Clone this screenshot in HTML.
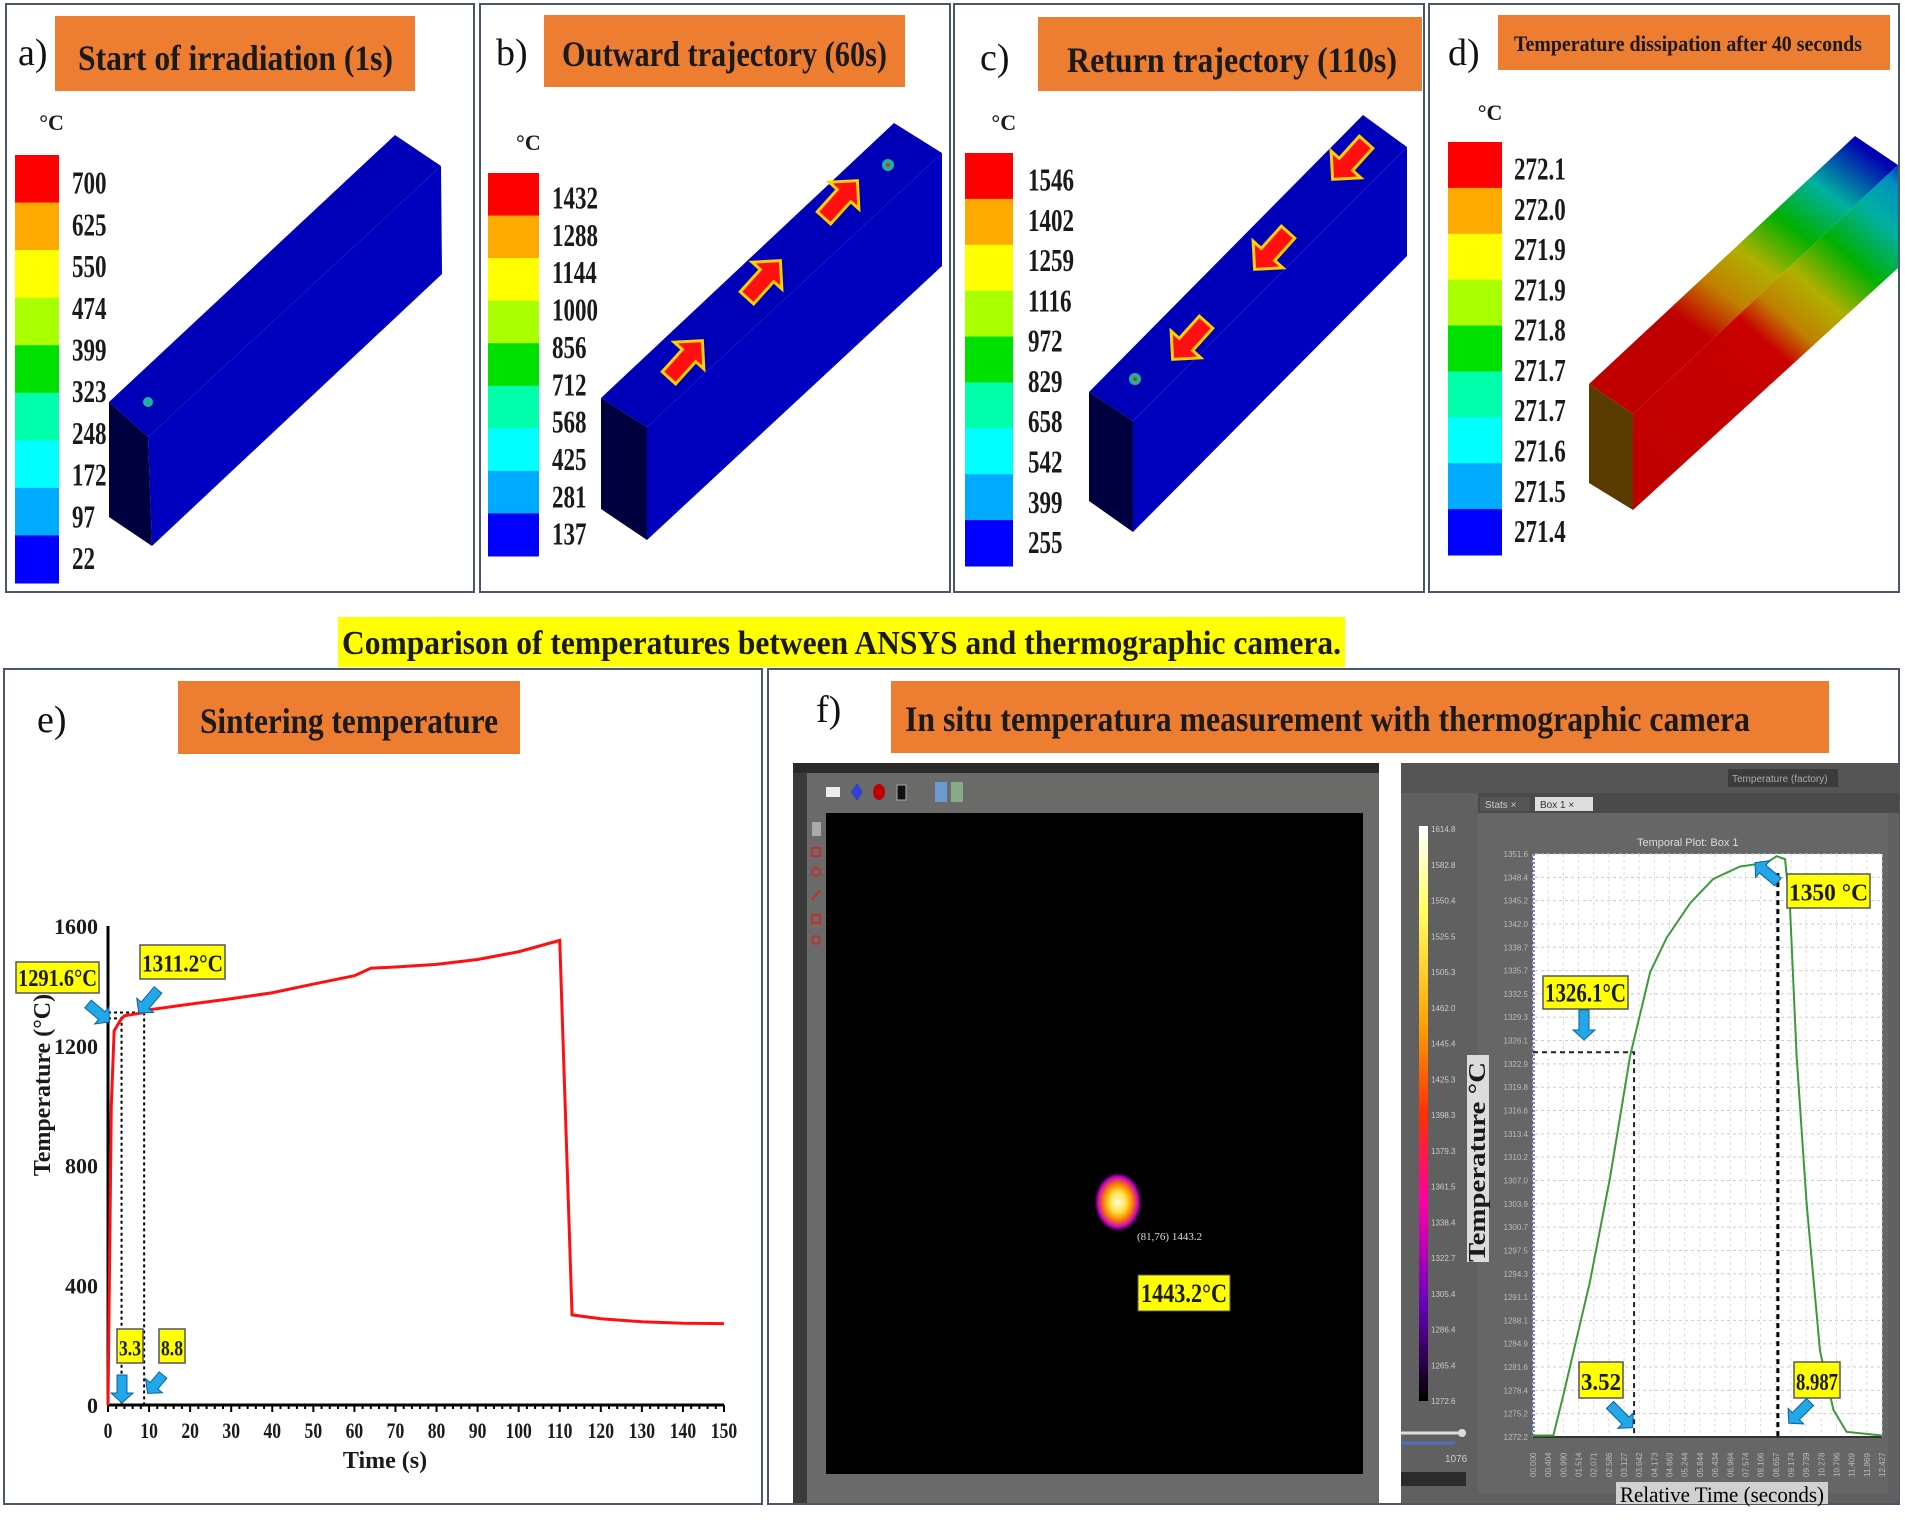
<!DOCTYPE html>
<html><head><meta charset="utf-8">
<style>
html,body{margin:0;padding:0;background:#fff;}
svg{display:block;}
text{font-family:"Liberation Serif",serif;}
.t{font-weight:bold;fill:#1a1a1a;}
.s{font-family:"Liberation Sans",sans-serif;}
</style></head>
<body>
<svg id="root" width="1905" height="1522" viewBox="0 0 1905 1522" xmlns="http://www.w3.org/2000/svg">
<defs>
<linearGradient id="dgrad" x1="1633" y1="450" x2="1898" y2="150" gradientUnits="userSpaceOnUse">
<stop offset="0" stop-color="#c00000"/><stop offset="0.42" stop-color="#c80000"/><stop offset="0.5" stop-color="#c08000"/>
<stop offset="0.6" stop-color="#b0b000"/><stop offset="0.72" stop-color="#00b000"/><stop offset="0.84" stop-color="#00b0a0"/>
<stop offset="0.93" stop-color="#0090c0"/><stop offset="1" stop-color="#0000b0"/></linearGradient>
<linearGradient id="dgrad2" x1="1589" y1="500" x2="1855" y2="140" gradientUnits="userSpaceOnUse">
<stop offset="0" stop-color="#b07000"/><stop offset="0.12" stop-color="#c00000"/><stop offset="0.45" stop-color="#c00000"/><stop offset="0.55" stop-color="#c08000"/>
<stop offset="0.65" stop-color="#b0b000"/><stop offset="0.76" stop-color="#00b000"/><stop offset="0.87" stop-color="#00b0a0"/><stop offset="1" stop-color="#0000b0"/></linearGradient>
<linearGradient id="ircb" x1="0" y1="0" x2="0" y2="1">
<stop offset="0" stop-color="#ffffff"/><stop offset="0.15" stop-color="#ffff60"/><stop offset="0.35" stop-color="#ffa000"/>
<stop offset="0.5" stop-color="#ff3000"/><stop offset="0.65" stop-color="#ff00a0"/><stop offset="0.82" stop-color="#7000c0"/><stop offset="1" stop-color="#000000"/></linearGradient>
<radialGradient id="spot"><stop offset="0" stop-color="#ffffe0"/><stop offset="0.35" stop-color="#ffe040"/><stop offset="0.6" stop-color="#ff8000"/><stop offset="0.85" stop-color="#c000c0"/><stop offset="1" stop-color="#400060" stop-opacity="0"/></radialGradient>
</defs>

<rect x="6" y="4" width="468" height="588" fill="none" stroke="#4a5670" stroke-width="2"/>
<rect x="480" y="4" width="470" height="588" fill="none" stroke="#4a5670" stroke-width="2"/>
<rect x="954" y="4" width="470" height="588" fill="none" stroke="#4a5670" stroke-width="2"/>
<rect x="1429" y="4" width="470" height="588" fill="none" stroke="#4a5670" stroke-width="2"/>

<g>
<text x="18" y="65" font-size="38" font-family="Liberation Sans" fill="#111">a)</text>
<rect x="55" y="16" width="360" height="75" fill="#ed7d31"/>
<text class="t" x="78" y="70" font-size="36" textLength="315" lengthAdjust="spacingAndGlyphs">Start of irradiation (1s)</text></g>
<g>
<text x="496" y="65" font-size="38" font-family="Liberation Sans" fill="#111">b)</text>
<rect x="544" y="15" width="361" height="72" fill="#ed7d31"/>
<text class="t" x="562" y="66" font-size="36" textLength="325" lengthAdjust="spacingAndGlyphs">Outward trajectory (60s)</text></g>
<g>
<text x="980" y="70" font-size="38" font-family="Liberation Sans" fill="#111">c)</text>
<rect x="1038" y="17" width="384" height="74" fill="#ed7d31"/>
<text class="t" x="1067" y="72" font-size="36" textLength="330" lengthAdjust="spacingAndGlyphs">Return trajectory (110s)</text></g>
<g>
<text x="1448" y="65" font-size="38" font-family="Liberation Sans" fill="#111">d)</text>
<rect x="1498" y="15" width="392" height="55" fill="#ed7d31"/>
<text class="t" x="1514" y="51" font-size="22" textLength="348" lengthAdjust="spacingAndGlyphs">Temperature dissipation after 40 seconds</text></g>

<g id="colorbars"></g>

<g>
<polygon points="109,402 395,135 441,166 148,437" fill="#0000b8"/>
<polygon points="148,437 441,166 442,274 152,546" fill="#0000c0"/>
<polygon points="109,402 148,437 152,546 109,517" fill="#000040"/>
<circle cx="148" cy="402" r="5" fill="#20b0a0"/></g>
<g>
<polygon points="601,398 894,123 942,153 647,427" fill="#0000b8"/>
<polygon points="647,427 942,153 942,266 647,540" fill="#0000c0"/>
<polygon points="601,398 647,427 647,540 601,509" fill="#000040"/>
<circle cx="888" cy="165" r="6" fill="#20b0a0"/><circle cx="888" cy="165" r="2" fill="#c04000"/></g>
<g>
<polygon points="1089,392 1363,115 1407,147 1133,421" fill="#0000b8"/>
<polygon points="1133,421 1407,147 1407,256 1133,532" fill="#0000c0"/>
<polygon points="1089,392 1133,421 1133,532 1089,501" fill="#000040"/>
<circle cx="1135" cy="379" r="6" fill="#20b0a0"/><circle cx="1135" cy="379" r="2" fill="#c04000"/></g>
<g>
<polygon points="1589,384 1855,136 1898,165 1633,414" fill="url(#dgrad2)"/>
<polygon points="1633,414 1898,165 1898,268 1633,510" fill="url(#dgrad)"/>
<polygon points="1589,384 1633,414 1633,510 1589,483" fill="#5a3c00"/></g>
<g id="arrows"></g>

<g>
<rect x="338" y="617" width="1007" height="50" fill="#ffff00"/>
<text class="t" x="342" y="654" font-size="34" textLength="999" lengthAdjust="spacingAndGlyphs" fill="#000">Comparison of temperatures between ANSYS and thermographic camera.</text></g>

<rect x="4" y="669" width="758" height="835" fill="none" stroke="#4a5670" stroke-width="2"/>
<rect x="768" y="669" width="1131" height="835" fill="none" stroke="#4a5670" stroke-width="2"/>

<g>
<text x="37" y="732" font-size="38" font-family="Liberation Sans" fill="#111">e)</text>
<rect x="178" y="681" width="342" height="73" fill="#ed7d31"/>
<text class="t" x="200" y="733" font-size="36" textLength="298" lengthAdjust="spacingAndGlyphs">Sintering temperature</text></g>
<g>
<text x="816" y="722" font-size="38" font-family="Liberation Sans" fill="#111">f)</text>
<rect x="891" y="681" width="938" height="72" fill="#ed7d31"/>
<text class="t" x="905" y="731" font-size="36" textLength="845" lengthAdjust="spacingAndGlyphs">In situ temperatura measurement with thermographic camera</text></g>

<g id="chartE"></g>

<g>
<rect x="793" y="763" width="586" height="740" fill="#6a6b68"/>
<rect x="793" y="763" width="586" height="10" fill="#2a2a2a"/>
<rect x="793" y="773" width="14" height="730" fill="#3a3a3a"/>
<rect x="826" y="813" width="537" height="661" fill="#000"/>
<rect x="826" y="787" width="14" height="10" fill="#eee"/>
<path d="M857,783 l6,9 l-6,9 l-6,-9z" fill="#3040d0"/>
<ellipse cx="879" cy="792" rx="6" ry="8" fill="#c00000"/>
<rect x="897" y="785" width="9" height="15" fill="#111" stroke="#aaa"/>
<rect x="935" y="782" width="12" height="20" fill="#6a9ad0"/><rect x="951" y="782" width="12" height="20" fill="#88aa88"/>
<rect x="812" y="822" width="9" height="14" fill="#aaa"/>
<g fill="none" stroke="#c03030" stroke-width="2"><rect x="812" y="848" width="8" height="8"/><circle cx="816" cy="872" r="4"/><line x1="812" y1="900" x2="820" y2="890"/><rect x="812" y="915" width="8" height="8"/><circle cx="816" cy="940" r="4"/></g>
<ellipse cx="1118" cy="1202" rx="24" ry="30" fill="url(#spot)"/>
<text x="1137" y="1240" font-size="11" fill="#ddd" font-family="Liberation Sans">(81,76) 1443.2</text>
<rect x="1138" y="1275" width="92" height="36" fill="#ffff00" stroke="#557" />
<text class="t" x="1141" y="1302" font-size="26" fill="#000" textLength="86" lengthAdjust="spacingAndGlyphs">1443.2°C</text>
</g>

<g>
<rect x="1401" y="763" width="498" height="740" fill="#606060"/>
<rect x="1401" y="763" width="498" height="30" fill="#555"/>
<rect x="1728" y="769" width="110" height="18" fill="#3c3c3c"/>
<text x="1732" y="782" font-size="10" fill="#aaa" class="s">Temperature (factory)</text>
<rect x="1478" y="793" width="421" height="20" fill="#4a4a4a"/>
<rect x="1480" y="797" width="50" height="14" fill="#555"/><text x="1485" y="808" font-size="10" fill="#ccc" class="s">Stats ×</text>
<rect x="1535" y="797" width="58" height="14" fill="#ddd"/><text x="1540" y="808" font-size="10" fill="#333" class="s">Box 1 ×</text>
<rect x="1478" y="813" width="410" height="680" fill="#666"/>
<text x="1637" y="846" font-size="11" fill="#ddd" class="s">Temporal Plot: Box 1</text>
<rect x="1419" y="826" width="9" height="575" fill="url(#ircb)"/>
<line x1="1401" y1="1433" x2="1465" y2="1433" stroke="#ddd" stroke-width="3"/>
<circle cx="1462" cy="1433" r="4" fill="#ddd"/>
<line x1="1401" y1="1443" x2="1455" y2="1443" stroke="#5070c0" stroke-width="3"/>
<text x="1445" y="1462" font-size="10" fill="#ccc" class="s">1076</text>
<rect x="1401" y="1472" width="65" height="14" fill="#2c2c2c"/>
<rect x="1467" y="1055" width="22" height="207" fill="#dcdcdc"/>
<text class="t" transform="translate(1485,1262) rotate(-90)" font-size="24" fill="#000" textLength="200" lengthAdjust="spacingAndGlyphs">Temperature °C</text>
<rect x="1616" y="1482" width="212" height="22" fill="#d0d0d0"/>
<text x="1620" y="1502" font-size="22" fill="#000" textLength="204" lengthAdjust="spacingAndGlyphs">Relative Time (seconds)</text>
</g>
<g id="irLabels"></g>
<g id="chartF"></g>
</svg>

<script>
const eTimes=[0,0.8,1.5,3.3,4,8.8,10,20,30,40,50,60,64,70,80,90,100,110,113,120,130,140,150];
const eTemps=[0,1000,1250,1291.6,1300,1311.2,1320,1339,1357,1377,1406,1434,1459,1463,1472,1488,1514,1552,301,288,278,273,272];
const eYTicks=[0,400,800,1200,1600];
const eXTicks=[0,10,20,30,40,50,60,70,80,90,100,110,120,130,140,150];
const fTimes=[-0.31,0.45,0.83,1.84,2.6,3.37,4.13,4.76,5.65,6.53,7.55,8.56,8.94,9.26,9.45,9.7,10.08,10.59,11.1,11.6,12.94];
const fTemps=[1272.4,1272.4,1277.9,1293.3,1307.4,1324.1,1335.5,1340.2,1344.9,1348.2,1349.9,1350.4,1351.3,1350.9,1344.2,1324.1,1304.0,1283.9,1275.9,1272.9,1272.4];
const fYTicks=["1351.6","1348.4","1345.2","1342.0","1338.7","1335.7","1332.5","1329.3","1326.1","1322.9","1319.8","1316.6","1313.4","1310.2","1307.0","1303.9","1300.7","1297.5","1294.3","1291.1","1288.1","1284.9","1281.6","1278.4","1275.2","1272.2"];
const fXTicks=["00.000","00.404","00.990","01.514","02.071","02.586","03.127","03.642","04.173","04.663","05.244","05.844","06.434","06.984","07.574","08.106","08.657","09.174","09.739","10.278","10.796","11.409","11.969","12.427"];
const irLabels=["1614.8","1582.8","1550.4","1525.5","1505.3","1462.0","1445.4","1425.3","1398.3","1379.3","1361.5","1338.4","1322.7","1305.4","1286.4","1265.4","1272.6"];
const cbA=["700","625","550","474","399","323","248","172","97","22"];
const cbB=["1432","1288","1144","1000","856","712","568","425","281","137"];
const cbC=["1546","1402","1259","1116","972","829","658","542","399","255"];
const cbD=["272.1","272.0","271.9","271.9","271.8","271.7","271.7","271.6","271.5","271.4"];
</script>
<script>
const NS="http://www.w3.org/2000/svg";
function mk(tag,attrs,parent){const e=document.createElementNS(NS,tag);for(const k in attrs)e.setAttribute(k,attrs[k]);if(parent)parent.appendChild(e);return e;}
const bandCols=["#ff0000","#ffaa00","#ffff00","#aaff00","#00e000","#00ffaa","#00ffff","#00aaff","#0000ff"];
const cbg=document.getElementById('colorbars');
function colorbar(x,y0,y1,w,labels,lx,fs,unitY,name){
  const g=mk('g',{},cbg);
  
  
  const bh=(y1-y0)/bandCols.length;
  bandCols.forEach((c,i)=>mk('rect',{x:x,y:y0+i*bh,width:w,height:bh+0.5,fill:c},g));
  const t=mk('text',{x:x+w*0.55,y:unitY,'font-size':22,'class':'t'},g);t.textContent='°C';
  const n=labels.length;
  const c0=y0+bh*0.6, c1=y1-bh*0.5;
  labels.forEach((l,i)=>{const tt=mk('text',{x:lx,y:c0+i*(c1-c0)/(n-1)+10,'font-size':fs,'class':'t'},g);
    tt.setAttribute('transform','translate('+lx+',0) scale(0.72,1) translate('+(-lx)+',0)');tt.textContent=l;});
}
colorbar(15,155,583,44,cbA,72,32,130,'colorbar-a');
colorbar(488,173,556,51,cbB,552,32,150,'colorbar-b');
colorbar(965,153,566,48,cbC,1028,32,130,'colorbar-c');
colorbar(1448,142,555,54,cbD,1514,32,120,'colorbar-d');
const ag=document.getElementById('arrows');
function arrow(cx,cy,ang){const p=mk('polygon',{points:'-24,-9 6,-9 6,-20 26,0 6,20 6,9 -24,9',fill:'#ff1010',stroke:'#ffd000','stroke-width':3,transform:'translate('+cx+','+cy+') rotate('+ang+')'},ag);
 }
arrow(685,360,-48);arrow(763,280,-48);arrow(840,200,-48);
arrow(1350,160,132);arrow(1272,250,132);arrow(1190,340,132);

const E=document.getElementById('chartE');
const ex=t=>108+(t-0)/(150)*(724-108);
const ey=v=>1405-(v/1600)*(1405-926);
mk('line',{x1:ex(0),y1:ey(0),x2:ex(0),y2:ey(1600),stroke:'#000','stroke-width':3},E);
mk('line',{x1:ex(0),y1:ey(0),x2:ex(150),y2:ey(0),stroke:'#000','stroke-width':3},E);
eYTicks.forEach(v=>{const t=mk('text',{x:ex(0)-10,y:ey(v)+8,'font-size':22,'text-anchor':'end','class':'t'},E);t.textContent=v;
 });
for(let t=0;t<=150;t+=2){mk('line',{x1:ex(t),y1:ey(0),x2:ex(t),y2:ey(0)+(t%10===0?7:4),stroke:'#000','stroke-width':2},E);}
eXTicks.forEach(v=>{const t=mk('text',{x:ex(v),y:ey(0)+33,'font-size':22,'text-anchor':'middle','class':'t'},E);t.textContent=v;
 t.setAttribute('transform','translate('+ex(v)+',0) scale(0.8,1) translate('+(-ex(v))+',0)');
 });
{const t=mk('text',{x:385,y:1468,'font-size':24,'text-anchor':'middle','class':'t'},E);t.textContent='Time (s)';
 }
{const t=mk('text',{x:0,y:0,'font-size':24,'text-anchor':'middle','class':'t',transform:'translate(50,1085) rotate(-90)'},E);t.textContent='Temperature  (°C)';
 }
[[3.3,1291.6],[8.8,1311.2]].forEach(([t,v])=>{
 mk('polyline',{points:ex(0)+','+ey(v)+' '+ex(t)+','+ey(v)+' '+ex(t)+','+ey(0),fill:'none',stroke:'#000','stroke-width':2,'stroke-dasharray':'3,3'},E);});
const ep=mk('polyline',{points:eTimes.map((t,i)=>ex(t)+','+ey(eTemps[i])).join(' '),fill:'none',stroke:'#ff1010','stroke-width':3},E);


function lab(g,x,y,w,h,txt,fs){mk('rect',{x:x,y:y,width:w,height:h,fill:'#ffff00',stroke:'#556','stroke-width':1.5},g);
 const t=mk('text',{x:x+2,y:y+h*0.78,'font-size':fs,'class':'t',fill:'#000',textLength:w-4,lengthAdjust:'spacingAndGlyphs'},g);t.textContent=txt;
 }
function barrow(g,x,y,ang,len){mk('polygon',{points:'0,-5 '+(len-10)+',-5 '+(len-10)+',-11 '+len+',0 '+(len-10)+',11 '+(len-10)+',5 0,5',fill:'#20a8e8',stroke:'#1060a0','stroke-width':1,transform:'translate('+x+','+y+') rotate('+ang+')'},g);}
lab(E,16,962,83,31,'1291.6°C',24);lab(E,140,945,85,34,'1311.2°C',24);
lab(E,117,1329,26,34,'3.3',22);lab(E,159,1329,26,34,'8.8',22);
barrow(E,88,1004,40,28);barrow(E,158,990,130,30);barrow(E,122,1375,90,28);barrow(E,163,1375,130,24);

const IG=document.getElementById('irLabels');
irLabels.forEach((l,i)=>{const t=mk('text',{x:1431,y:829+i*(572/(irLabels.length-1))+3,'font-size':8,fill:'#ccc','class':'s'},IG);t.textContent=l;});

const F=document.getElementById('chartF');
const fx=t=>1541.5+t*26.3;
const fy=v=>1437-(v-1272.2)/(1351.6-1272.2)*(1437-854);
mk('rect',{x:1533,y:854,width:349,height:583,fill:'#fff'},F);
fYTicks.forEach((l,i)=>{const yy=854+i*(583/(fYTicks.length-1));
 mk('line',{x1:1535,y1:yy,x2:1882,y2:yy,stroke:'#ccc','stroke-width':1,'stroke-dasharray':'3,3'},F);
 const t=mk('text',{x:1528,y:yy+3,'font-size':8,fill:'#bbb','text-anchor':'end','class':'s'},F);t.textContent=l;
 });
fXTicks.forEach((l,i)=>{const xx=1533+i*(349/(fXTicks.length-1));
 mk('line',{x1:xx,y1:854,x2:xx,y2:1437,stroke:'#ddd','stroke-width':1,'stroke-dasharray':'3,3'},F);
 const t=mk('text',{x:0,y:0,'font-size':8,fill:'#bbb','class':'s',transform:'translate('+(xx+3)+',1477) rotate(-90)'},F);t.textContent=l;
 });
mk('line',{x1:1533,y1:1437,x2:1882,y2:1437,stroke:'#333','stroke-width':2},F);
mk('line',{x1:1534,y1:854,x2:1534,y2:1437,stroke:'#8080ff','stroke-width':2,'stroke-dasharray':'2,2'},F);
mk('polyline',{points:'1533,'+fy(1324.6)+' '+fx(3.52)+','+fy(1324.6)+' '+fx(3.52)+',1437',fill:'none',stroke:'#222','stroke-width':2,'stroke-dasharray':'5,4'},F);
mk('line',{x1:fx(8.987),y1:fy(1349),x2:fx(8.987),y2:1437,stroke:'#000','stroke-width':3,'stroke-dasharray':'5,4'},F);
const fp=mk('polyline',{points:fTimes.map((t,i)=>fx(t)+','+fy(fTemps[i])).join(' '),fill:'none',stroke:'#3a9a3a','stroke-width':2},F);


lab(F,1543,976,85,33,'1326.1°C',26);lab(F,1787,874,83,34,'1350 °C',24);
lab(F,1579,1362,44,36,'3.52',24);lab(F,1794,1362,46,36,'8.987',24);
barrow(F,1584,1010,90,30);barrow(F,1778,882,-140,30);barrow(F,1610,1405,45,32);barrow(F,1810,1402,135,30);
</script>
</body></html>
